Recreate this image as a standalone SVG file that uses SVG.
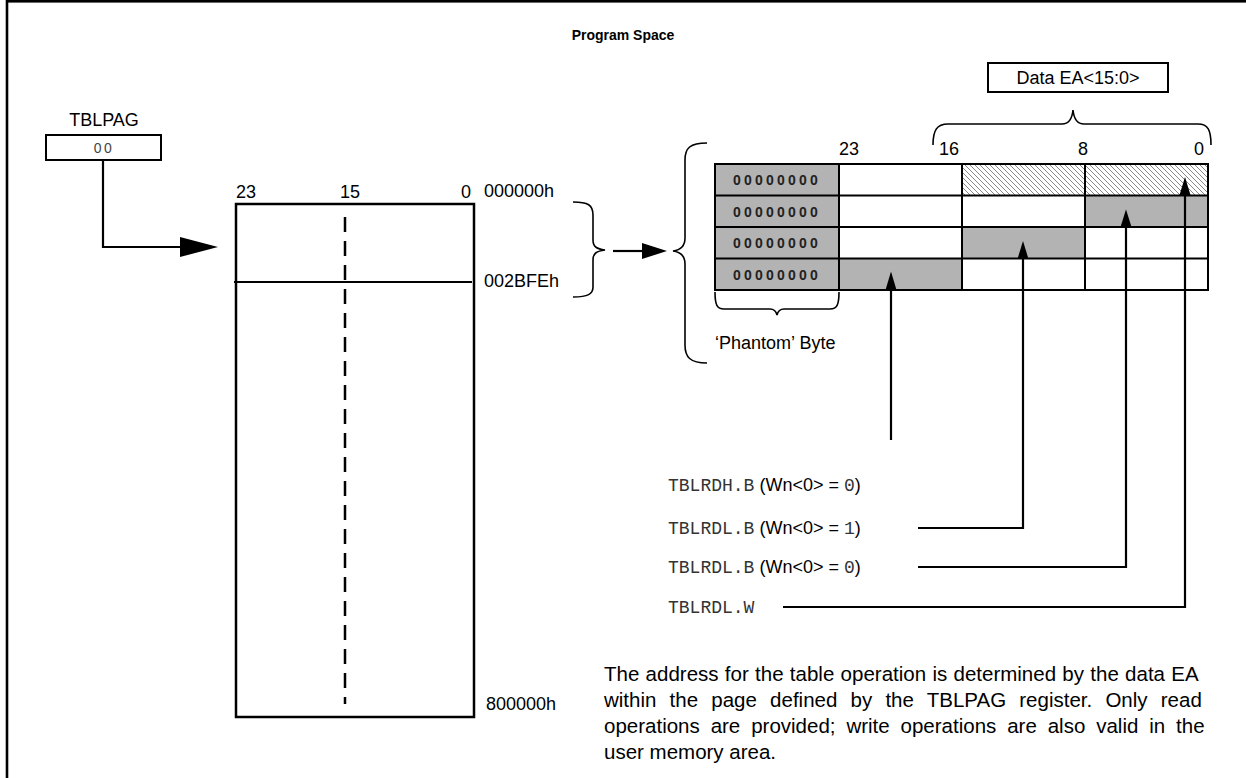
<svg xmlns="http://www.w3.org/2000/svg" width="1246" height="778" viewBox="0 0 1246 778">
<style>
.t{font-family:"Liberation Sans",Arial,sans-serif;fill:#000;font-size:18px}
.b{font-weight:bold;font-size:14px}
.m{font-family:"Liberation Mono","Courier New",monospace;fill:#333;font-size:18px}
.z{font-family:"Liberation Sans",Arial,sans-serif;fill:#222;font-size:14px;font-weight:bold;letter-spacing:3.2px}
.p{font-family:"Liberation Sans",Arial,sans-serif;fill:#000;font-size:20.5px}
.ln{fill:none;stroke:#000;stroke-width:2}
.br{fill:none;stroke:#000;stroke-width:1.6}
.cn{fill:none;stroke:#000;stroke-width:2.2}
.ah{fill:#000;stroke:none}
.g{fill:#b3b3b3}
</style>
<defs>
<pattern id="hatch" patternUnits="userSpaceOnUse" width="5" height="5">
<rect width="5" height="5" fill="#fff"/>
<path d="M-1,-1 L6,6 M-1,4 L1,6 M4,-1 L6,1" stroke="#555" stroke-width="0.7"/>
</pattern>
</defs>
<rect x="0" y="0" width="1246" height="778" fill="#fff"/>
<rect id="frame" x="7" y="1.3" width="1300" height="820" fill="none" stroke="#000" stroke-width="2.6"/>

<g id="title"><text class="t b" x="623" y="40" text-anchor="middle">Program Space</text></g>

<g id="tblpag">
<text class="t" x="104" y="126" text-anchor="middle">TBLPAG</text>
<rect x="46" y="135" width="115" height="25" fill="#fff" stroke="#000" stroke-width="2"/>
<text x="104" y="153" text-anchor="middle" style="font-family:'Liberation Sans',Arial,sans-serif;font-size:14px;fill:#444;letter-spacing:2.5px">00</text>
</g>

<g id="memory">
<rect x="236" y="204" width="238" height="513" fill="none" stroke="#000" stroke-width="2.5"/>
<line x1="234" y1="282" x2="472" y2="282" stroke="#000" stroke-width="2"/>
<line x1="345" y1="217" x2="345" y2="704" stroke="#000" stroke-width="2.5" stroke-dasharray="15,9"/>
<text class="t" x="236" y="198">23</text>
<text class="t" x="340" y="198">15</text>
<text class="t" x="471" y="198" text-anchor="end">0</text>
<text class="t" x="484" y="197">000000h</text>
<text class="t" x="484" y="287">002BFEh</text>
<text class="t" x="486" y="710">800000h</text>
</g>

<g id="range-brace">
<path class="br" d="M573,202 C588,202 593,205 593,215 L593,240 C593,247 597,249 605,250 C597,251 593,253 593,260 L593,287 C593,294 588,297 573,297"/>
</g>

<g id="table-brace">
<path class="br" d="M707,143 C690,143 685,148 685,160 L685,238 C685,246 681,250 673,251 C681,252 685,256 685,264 L685,345 C685,357 690,363 707,363"/>
</g>

<g id="dataea">
<rect x="988" y="63" width="180" height="29" fill="#fff" stroke="#000" stroke-width="2"/>
<text class="t" x="1078" y="84" text-anchor="middle">Data EA&lt;15:0&gt;</text>
<path class="br" d="M933,145 C933,130 937,124 948,124 L1062,124 C1068,124 1072,120 1073,110 C1074,120 1078,124 1084,124 L1198,124 C1208,124 1211,130 1211,145"/>
</g>

<g id="table">
<text class="t" x="839" y="155">23</text>
<text class="t" x="939" y="155">16</text>
<text class="t" x="1078" y="155">8</text>
<text class="t" x="1194" y="155">0</text>
<rect class="g" x="715" y="164" width="124" height="126"/>
<rect fill="url(#hatch)" x="962" y="164" width="246" height="31.5"/>
<rect class="g" x="1085" y="195.5" width="123" height="31.5"/>
<rect class="g" x="962" y="227" width="123" height="31.5"/>
<rect class="g" x="839" y="258.5" width="123" height="31.5"/>
<rect x="715" y="164" width="493" height="126" fill="none" stroke="#000" stroke-width="2"/>
<path class="ln" d="M715,195.5 H1208 M715,227 H1208 M715,258.5 H1208 M839,164 V290 M962,164 V290 M1085,164 V290"/>
<text class="z" x="733" y="185">00000000</text>
<text class="z" x="733" y="216.5">00000000</text>
<text class="z" x="733" y="248">00000000</text>
<text class="z" x="733" y="279.5">00000000</text>
</g>

<g id="phantom">
<path class="br" d="M715,292 C715,305 717,309 724,309 L770,309 C774,309 776,311 777,315 C778,311 780,309 784,309 L830,309 C837,309 839,305 839,292"/>
<text class="t" x="715" y="349">‘Phantom’ Byte</text>
</g>

<g id="ops">
<text x="668" y="491"><tspan class="m">TBLRDH.B</tspan><tspan class="t"> (Wn&lt;0&gt; = </tspan><tspan class="m">0</tspan><tspan class="t">)</tspan></text>
<text x="668" y="534"><tspan class="m">TBLRDL.B</tspan><tspan class="t"> (Wn&lt;0&gt; = </tspan><tspan class="m">1</tspan><tspan class="t">)</tspan></text>
<text x="668" y="573"><tspan class="m">TBLRDL.B</tspan><tspan class="t"> (Wn&lt;0&gt; = </tspan><tspan class="m">0</tspan><tspan class="t">)</tspan></text>
<text class="m" x="668" y="613">TBLRDL.W</text>
</g>

<g id="note">
<text class="p" x="604" y="681" word-spacing="0.6">The address for the table operation is determined by the data EA</text>
<text class="p" x="604" y="707" word-spacing="7.5">within the page defined by the TBLPAG register. Only read</text>
<text class="p" x="604" y="733" word-spacing="5.2">operations are provided; write operations are also valid in the</text>
<text class="p" x="604" y="759">user memory area.</text>
</g>

<g id="connectors">
<path class="cn" d="M103,161 V247 H182" stroke-width="3"/>
<polygon class="ah" points="180,237 218,247 180,257"/>
<path class="cn" d="M613,251 H645" stroke-width="3"/>
<polygon class="ah" points="642,243 667,251 642,259"/>
<path class="cn" d="M891,440 V288"/>
<polygon class="ah" points="885.5,290 891,271.5 896.5,290"/>
<path class="cn" d="M918,528 H1023 V258"/>
<polygon class="ah" points="1017.5,259 1023,241 1028.5,259"/>
<path class="cn" d="M918,567 H1126 V227"/>
<polygon class="ah" points="1120.5,227 1126,209.5 1131.5,227"/>
<path class="cn" d="M783,607 H1185 V195"/>
<polygon class="ah" points="1179.5,195 1185,177 1190.5,195"/>
</g>
</svg>
